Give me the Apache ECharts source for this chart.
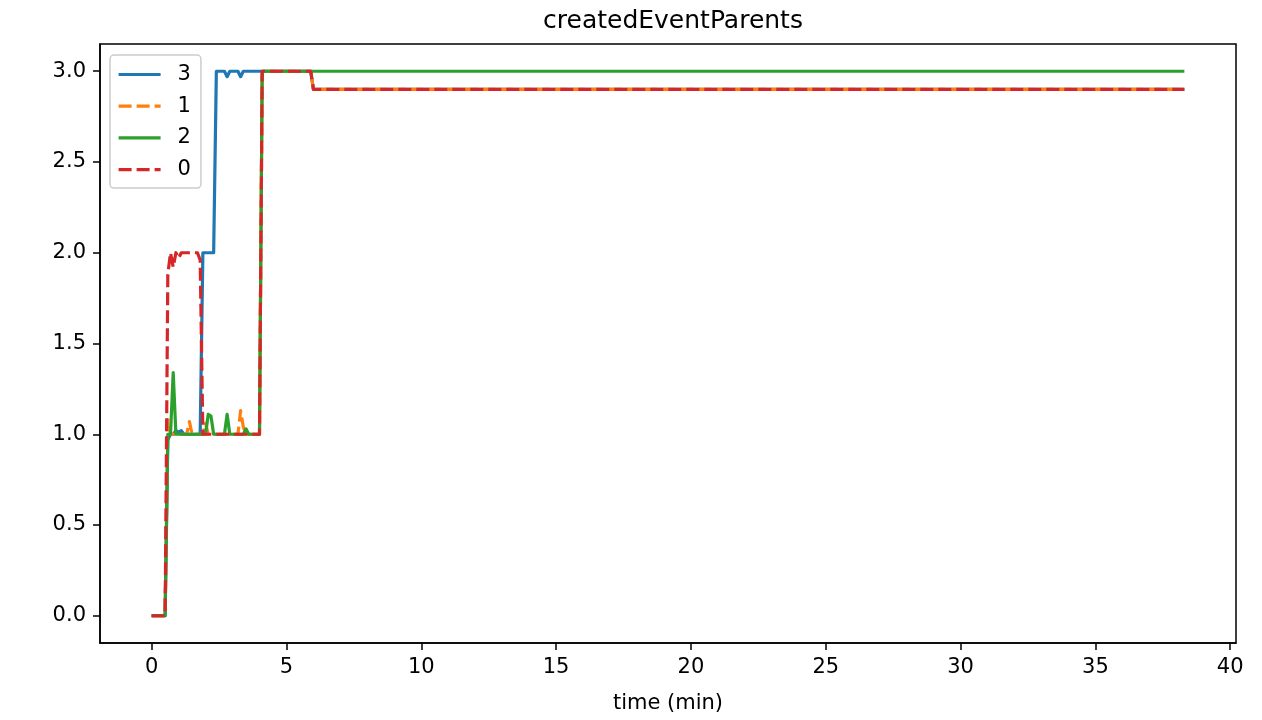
<!DOCTYPE html>
<html>
<head>
<meta charset="utf-8">
<script src="https://cdn.jsdelivr.net/npm/echarts@6/dist/echarts.min.js"></script>
<style>html,body{margin:0;padding:0;background:#fff;}#c{width:1262px;height:720px;}</style>
</head>
<body>
<div id="c"></div>
<script>
const times = [0,0.1,0.2,0.3,0.4,0.5,0.6,0.7,0.8,0.9,1.0,1.1,1.2,1.3,1.4,1.5,1.6,1.7,1.8,1.9,2.0,2.1,2.2,2.3,2.4,2.5,2.6,2.7,2.8,2.9,3.0,3.1,3.2,3.3,3.4,3.5,3.6,3.7,3.8,3.9,4.0,4.1,4.2,4.3,4.4,4.5,4.6,4.7,4.8,4.9,5.0,5.1,5.2,5.3,5.4,5.5,5.6,5.7,5.8,5.9,6.0,6.1,6.2,38.3];
const node3 = [0,0,0,0,0,0,0.97,1.0,1.0,1.02,1.01,1.02,1,1,1,1,1,1,1,2,2,2,2,2,3,3,3,3,2.97,3,3,3,3,2.97,3,3,3,3,3,3,3,3,3,3,3,3,3,3,3,3,3,3,3,3,3,3,3,3,3,3,2.9,2.9,2.9,2.9];
const node1 = [0,0,0,0,0,0,1.08,1,1,1,1,1,1,1,1.07,1,1,1,1,1,1.06,1,1,1,1,1,1,1,1,1,1,1,1,1.13,1.04,1,1,1,1,1,1,3,3,3,3,3,3,3,3,3,3,3,3,3,3,3,3,3,3,3,2.9,2.9,2.9,2.9];
const node2 = [0,0,0,0,0,0,1.0,1.0,1.34,1,1,1,1,1,1,1,1,1,1,1,1,1.11,1.10,1,1,1,1,1,1.11,1,1,1,1,1,1,1.03,1,1,1,1,1,3,3,3,3,3,3,3,3,3,3,3,3,3,3,3,3,3,3,3,3,3,3,3];
const node0 = [0,0,0,0,0,0,1.88,2.0,1.92,2.0,1.97,2,2,2,2,2,2,2,1.96,1,1,1,1,1,1,1,1,1,1,1,1,1,1,1,1,1,1,1,1,1,1,3,3,3,3,3,3,3,3,3,3,3,3,3,3,3,3,3,3,3,2.9,2.9,2.9,2.9];
const seriesNames = ['3','1','2','0'];
const seriesValues = [node3, node1, node2, node0];
const xTicks = [0,5,10,15,20,25,30,35,40];
const yTicks = [0,0.5,1.0,1.5,2.0,2.5,3.0];
const colors = ['#1f77b4','#ff7f0e','#2ca02c','#d62728'];
const dashed = [false, true, false, true];

const font = 'DejaVu Sans';
const chart = echarts.init(document.getElementById('c'), null, {renderer:'canvas'});
chart.setOption({
  animation: false,
  backgroundColor: '#fff',
  title: {
    text: 'createdEventParents',
    left: 668, top: 4, textAlign: 'center',
    textStyle: {fontFamily: font, fontSize: 25, fontWeight: 'normal', color: '#000'}
  },
  grid: {left: 100, right: 26, top: 44, bottom: 77, show: true, borderColor: '#000', borderWidth: 1.5, backgroundColor: 'transparent'},
  legend: {
    orient: 'vertical', left: 110, top: 55,
    padding: [9, 10, 8, 7],
    itemWidth: 42, itemHeight: 14, itemGap: 10.7,
    backgroundColor: 'rgba(255,255,255,0.85)', borderColor: '#cccccc', borderWidth: 1.5, borderRadius: 4,
    itemStyle: {opacity: 0, borderWidth: 0},
    lineStyle: {width: 3.2},
    textStyle: {fontFamily: font, fontSize: 21, color: '#000', lineHeight: 14, padding: [0,0,0,12]},
    data: seriesNames
  },
  xAxis: {
    type: 'value', min: -1.915, max: 40.215,
    name: 'time (min)', nameLocation: 'middle', nameGap: 50,
    nameTextStyle: {fontFamily: font, fontSize: 21, color: '#000'},
    axisLine: {show: true, onZero: false, lineStyle: {color: '#000', width: 1.5}},
    axisTick: {show: true, inside: false, length: 7, lineStyle: {color: '#000', width: 1.5}, customValues: xTicks},
    axisLabel: {fontFamily: font, fontSize: 21, color: '#000', margin: 14, customValues: xTicks, formatter: v => String(Math.round(v))},
    splitLine: {show: false}
  },
  yAxis: {
    type: 'value', min: -0.15, max: 3.15,
    axisLine: {show: true, onZero: false, lineStyle: {color: '#000', width: 1.5}},
    axisTick: {show: true, inside: false, length: 7, lineStyle: {color: '#000', width: 1.5}, customValues: yTicks},
    axisLabel: {fontFamily: font, fontSize: 21, color: '#000', margin: 14, customValues: yTicks, formatter: v => v.toFixed(1)},
    splitLine: {show: false}
  },
  series: seriesNames.map((n, k) => ({
    name: n, type: 'line', symbol: 'none', showSymbol: false,
    data: times.map((t, i) => [t, seriesValues[k][i]]),
    lineStyle: {color: colors[k], width: 3.2, type: dashed[k] ? [13, 5] : 'solid', cap: 'butt', join: 'round'},
    itemStyle: {color: colors[k]},
    z: 2 + k
  }))
});
</script>
</body>
</html>
